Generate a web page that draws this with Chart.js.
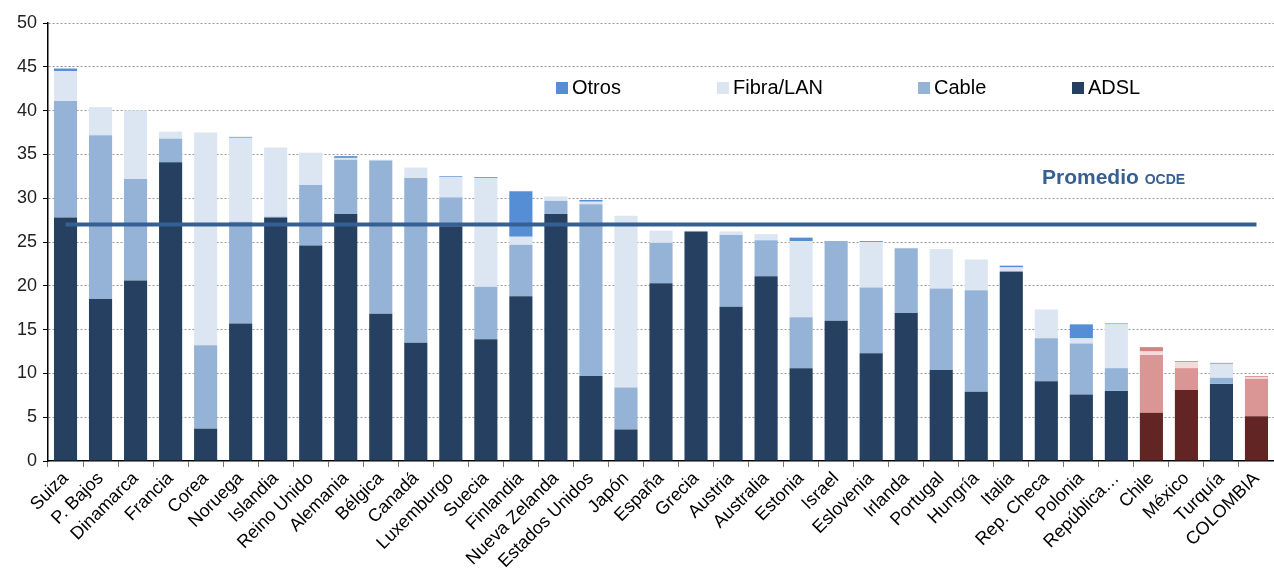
<!DOCTYPE html>
<html lang="es">
<head>
  <meta charset="UTF-8">
  <title>Banda ancha fija por tecnología</title>
  <script src="https://cdn.jsdelivr.net/npm/chart.js"></script>
  <style>
    body {
      margin: 0;
      padding: 0;
      background: #fff;
      font-family: Arial, "Liberation Sans", sans-serif;
    }
    #wrap {
      width: 1274px;
      height: 574px;
      position: relative;
    }
  </style>
</head>
<body>
  <div id="wrap">
    <canvas id="chart"></canvas>
  </div>

  <script>
    // categories
    const paises = ['Suiza', 'P. Bajos', 'Dinamarca', 'Francia', 'Corea', 'Noruega', 'Islandia',
      'Reino Unido', 'Alemania', 'Bélgica', 'Canadá', 'Luxemburgo', 'Suecia', 'Finlandia',
      'Nueva Zelanda', 'Estados Unidos', 'Japón', 'España', 'Grecia', 'Austria', 'Australia',
      'Estonia', 'Israel', 'Eslovenia', 'Irlanda', 'Portugal', 'Hungría', 'Italia', 'Rep. Checa',
      'Polonia', 'República…', 'Chile', 'México', 'Turquía', 'COLOMBIA'];

    // series values (subscriptions per 100 inhabitants)
    const adsl = [27.8, 18.5, 20.6, 34.1, 3.7, 15.7, 27.8, 24.6, 28.2, 16.8, 13.5, 26.8, 13.9, 18.8,
      28.2, 9.7, 3.6, 20.3, 26.2, 17.6, 21.1, 10.6, 16.0, 12.3, 16.9, 10.4, 7.9, 21.6, 9.1,
      7.6, 8.0, 5.5, 8.1, 8.8, 5.1];
    const cable = [13.3, 18.7, 11.6, 2.7, 9.5, 11.6, 0.1, 6.9, 6.2, 17.5, 18.8, 3.3, 6.0, 5.9,
      1.5, 19.6, 4.8, 4.6, 0, 8.2, 4.1, 5.8, 9.1, 7.5, 7.4, 9.3, 11.6, 0.1, 4.9,
      5.8, 2.6, 6.6, 2.5, 0.7, 4.3];
    const fibra = [3.4, 3.2, 7.8, 0.8, 24.3, 9.6, 7.9, 3.7, 0.2, 0.1, 1.2, 2.3, 12.4, 0.9,
      0.5, 0.3, 19.6, 1.4, 0.1, 0.4, 0.7, 8.7, 0, 5.2, 0, 4.5, 3.5, 0.4, 3.3,
      0.6, 5.0, 0.4, 0.7, 1.6, 0.2];
    const otros = [0.3, 0, 0, 0, 0, 0.1, 0, 0, 0.2, 0, 0, 0.1, 0.1, 5.2,
      0, 0.2, 0, 0, 0, 0, 0, 0.4, 0, 0.1, 0, 0, 0, 0.2, 0,
      1.6, 0.1, 0.5, 0.1, 0.1, 0.1];

    const promedioOCDE = 27;
    const resaltados = ['Chile', 'México', 'COLOMBIA'];
    const yTicks = [0, 5, 10, 15, 20, 25, 30, 35, 40, 45, 50];

    // colours: blue for OECD members, red tones for the highlighted ones
    function colores(azul, rojo) {
      return paises.map(p => resaltados.includes(p) ? rojo : azul);
    }

    const datasets = [
      { label: 'ADSL', data: adsl, backgroundColor: colores('#254061', '#632523') },
      { label: 'Cable', data: cable, backgroundColor: colores('#95b3d7', '#d99694') },
      { label: 'Fibra/LAN', data: fibra, backgroundColor: colores('#dce6f2', '#f2dcdb') },
      { label: 'Otros', data: otros, backgroundColor: colores('#558ed5', '#d08583') }
    ].map(ds => Object.assign(ds, {
      type: 'bar',
      stack: 'tec',
      order: 1,
      barPercentage: 0.66,
      categoryPercentage: 1.0
    }));

    datasets.push({
      type: 'line',
      label: 'Promedio OCDE',
      data: paises.map(() => promedioOCDE),
      stack: 'prom',
      order: 0,
      borderColor: '#366092',
      borderWidth: 4,
      pointRadius: 0,
      fill: false
    });

    // legend inside the plot + average label
    const overlay = {
      id: 'overlay',
      afterDraw(chart) {
        const ctx = chart.ctx;
        ctx.save();
        const items = [
          { t: 'Otros', c: '#558ed5', x: 556 },
          { t: 'Fibra/LAN', c: '#dce6f2', x: 717 },
          { t: 'Cable', c: '#95b3d7', x: 918 },
          { t: 'ADSL', c: '#254061', x: 1072 }
        ];
        ctx.font = '20px Arial, "Liberation Sans", sans-serif';
        ctx.textBaseline = 'middle';
        ctx.textAlign = 'left';
        items.forEach(it => {
          ctx.fillStyle = it.c;
          ctx.fillRect(it.x, 82, 12, 12);
          ctx.fillStyle = '#000';
          ctx.fillText(it.t, it.x + 16, 88);
        });

        ctx.fillStyle = '#366092';
        ctx.textBaseline = 'alphabetic';
        ctx.font = 'bold 21px Arial, "Liberation Sans", sans-serif';
        ctx.fillText('Promedio', 1042, 184);
        const w = ctx.measureText('Promedio ').width;
        ctx.font = 'bold 14px Arial, "Liberation Sans", sans-serif';
        ctx.fillText('OCDE', 1042 + w, 184);
        ctx.restore();
      }
    };

    new Chart(document.getElementById('chart'), {
      data: { labels: paises, datasets: datasets },
      options: {
        responsive: true,
        maintainAspectRatio: false,
        animation: false,
        layout: { padding: { top: 23, right: 0, left: 0, bottom: 0 } },
        plugins: {
          legend: { display: false },
          tooltip: { enabled: false }
        },
        scales: {
          x: {
            stacked: true,
            grid: {
              display: true,
              offset: true,
              drawOnChartArea: false,
              tickLength: 6,
              tickColor: '#777'
            },
            border: { display: true, color: '#000', width: 1.5 },
            ticks: {
              autoSkip: false,
              minRotation: 45,
              maxRotation: 45,
              color: '#000',
              padding: 1,
              font: { family: 'Arial, "Liberation Sans", sans-serif', size: 18 }
            },
            afterFit(scale) { scale.height = 113; }
          },
          y: {
            stacked: true,
            min: 0,
            max: 50,
            afterBuildTicks(scale) { scale.ticks = yTicks.map(v => ({ value: v })); },
            grid: {
              color: c => (c.tick && c.tick.value === 0) ? 'rgba(0,0,0,0)' : '#999',
              lineWidth: 1,
              tickLength: 5,
              tickColor: '#000',
              tickBorderDash: []
            },
            border: { display: true, color: '#000', width: 1.5, dash: [2, 2] },
            ticks: {
              color: '#222',
              padding: 6,
              font: { family: 'Arial, "Liberation Sans", sans-serif', size: 18 }
            },
            afterFit(scale) { scale.width = 48; }
          }
        }
      },
      plugins: [overlay]
    });
  </script>
</body>
</html>
